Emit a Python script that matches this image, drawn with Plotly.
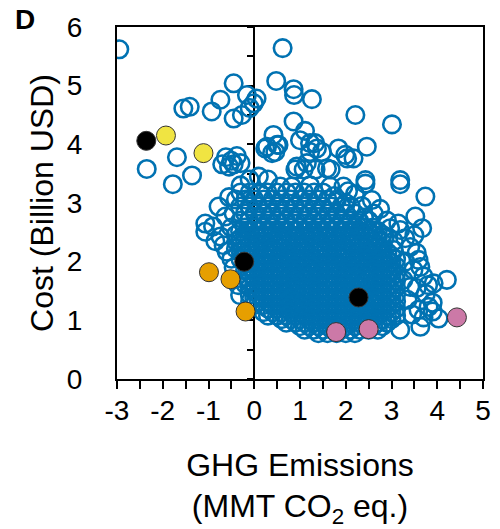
import plotly.graph_objects as go

# ---- data ----
# scattered (clearly visible) open circles
outer_x = [-2.95, 0.62, 0.48, -0.45, 0.86, 0.87, 1.26, -0.74, -0.16, -0.01, 0.05,
           -1.55, -1.41, -0.93, -0.45, -0.27, -0.10, 2.21, 3.01, 0.86, 1.11,
           -1.69, -2.35, -1.36, -1.78,
           -0.62, -0.50, -0.38, -0.45, -0.55, -0.30, -0.70,
           0.28, 0.50, 0.42, 0.24, 0.53, 0.46, 0.39,
           1.00, 1.22, 1.33, 1.37, 1.22, 1.48, 1.84, 1.99, 2.17, 2.46, 2.03,
           0.90, 1.08, 1.34, 1.67, 0.93, 1.15, 1.59, 2.43, 3.19, 3.19, 2.43,
           0.57, 0.82, 1.22, 1.66, 1.95,
           3.74, 2.57, 2.61, 3.15, 3.19, 3.52, 3.67, 2.97, 3.05, 3.41, 3.59, 3.63,
           2.68, 2.83, 4.21, 3.92, 3.81, 4.03, 3.26, 3.41, 3.48, 3.59, 3.63, 3.19,
           2.00, 2.20, 2.35, 2.75, 3.30, 3.50, 3.75, 3.90,
           3.35, 3.55, 3.70, 3.45, 3.80, 3.30, 3.55, 3.90, 3.70,
           -0.78, -0.63, -1.07, -1.07, -0.74, -0.67, -0.60, -0.31, -0.09,
           -0.90, -0.85, -0.50, -0.45, -0.35, -0.55, -0.30, -0.10, 0.10, 0.30,
           1.75, 2.05, 2.40, 2.25, 2.85, 3.05, 2.55, 2.90]
outer_y = [5.62, 5.64, 5.08, 5.04, 4.94, 4.84, 4.77, 4.76, 4.84, 4.70, 4.78,
           4.61, 4.64, 4.56, 4.44, 4.50, 4.62, 4.50, 4.34, 4.39, 4.23,
           3.78, 3.58, 3.47, 3.32,
           3.78, 3.72, 3.80, 3.66, 3.62, 3.68, 3.66,
           3.96, 3.99, 4.16, 3.93, 3.99, 3.87, 3.85,
           4.07, 4.02, 4.02, 3.93, 3.87, 3.87, 3.93, 3.82, 3.76, 3.96, 3.76,
           3.57, 3.57, 3.57, 3.57, 3.62, 3.68, 3.59, 3.39, 3.39, 3.32, 3.33,
           3.28, 3.28, 3.30, 3.28, 3.28,
           3.11, 3.05, 2.82, 2.65, 2.54, 2.77, 2.57, 2.57, 2.20, 2.25, 2.03, 1.91,
           2.25, 2.03, 1.69, 1.63, 1.23, 1.03, 1.69, 1.57, 1.86, 1.18, 0.89, 0.84,
           3.00, 3.15, 2.95, 2.90, 2.40, 2.45, 1.45, 1.30,
           1.35, 1.55, 1.75, 1.10, 1.60, 2.00, 2.15, 1.15, 1.05,
           2.94, 2.77, 2.51, 2.65, 2.43, 2.28, 2.17, 1.43, 1.32,
           2.60, 2.35, 2.05, 1.90, 1.60, 3.10, 3.30, 3.40, 3.45, 3.40,
           3.12, 3.20, 2.75, 2.62, 2.40, 2.35, 2.15, 2.70]

# body of the cloud, read row by row (row height, x positions of the circles)
core_rows_y = [3.18, 3.06, 2.94, 2.82, 2.70, 2.58,
               2.52, 2.46, 2.40, 2.34, 2.28, 2.22, 2.16, 2.10, 2.04, 1.98,
               1.92, 1.86, 1.80, 1.74, 1.68, 1.62, 1.56, 1.50, 1.44, 1.38,
               1.32, 1.26, 1.20, 1.14, 1.08, 1.02, 0.96, 0.90, 0.84, 0.78]
core_rows_x = [
    [-0.30, -0.10, 0.11, 0.29, 0.50, 0.71, 0.90, 1.09, 1.31, 1.50],
    [-0.40, -0.19, 0.00, 0.21, 0.40, 0.59, 0.80, 1.01, 1.20, 1.39, 1.60, 1.81],
    [-0.31, -0.10, 0.09, 0.30, 0.51, 0.70, 0.89, 1.10, 1.31, 1.50, 1.69, 1.90, 2.11],
    [-0.45, -0.20, 0.01, 0.20, 0.39, 0.60, 0.81, 1.00, 1.19, 1.40, 1.61, 1.80, 1.99, 2.20],
    [-0.30, -0.11, 0.10, 0.31, 0.50, 0.69, 0.90, 1.11, 1.30, 1.49, 1.70, 1.91, 2.10, 2.29, 2.50],
    [-0.50, -0.21, 0.00, 0.19, 0.40, 0.61, 0.80, 0.99, 1.20, 1.41, 1.60, 1.79, 2.00, 2.21, 2.40, 2.59],
    [-0.31, -0.10, 0.10, 0.29, 0.50, 0.71, 0.90, 1.10, 1.29, 1.50, 1.70, 1.91, 2.10, 2.30, 2.49, 2.70],
    [-0.40, -0.20, 0.01, 0.20, 0.40, 0.59, 0.80, 1.00, 1.21, 1.40, 1.60, 1.79, 2.00, 2.20, 2.41, 2.60, 2.80],
    [-0.30, -0.11, 0.10, 0.30, 0.51, 0.70, 0.89, 1.10, 1.30, 1.50, 1.71, 1.90, 2.10, 2.29, 2.50, 2.70],
    [-0.39, -0.20, 0.00, 0.20, 0.41, 0.60, 0.80, 0.99, 1.20, 1.40, 1.60, 1.80, 2.01, 2.20, 2.40, 2.60, 2.79],
    [-0.30, -0.10, 0.09, 0.30, 0.50, 0.70, 0.91, 1.10, 1.30, 1.49, 1.70, 1.90, 2.10, 2.31, 2.50, 2.70],
    [-0.40, -0.19, 0.00, 0.21, 0.40, 0.60, 0.80, 1.01, 1.20, 1.40, 1.59, 1.80, 2.00, 2.20, 2.40, 2.61, 2.80],
    [-0.29, -0.10, 0.10, 0.30, 0.49, 0.70, 0.90, 1.10, 1.31, 1.50, 1.70, 1.90, 2.09, 2.30, 2.50, 2.70, 2.91],
    [-0.20, 0.00, 0.20, 0.40, 0.61, 0.80, 1.00, 1.20, 1.40, 1.60, 1.81, 2.00, 2.20, 2.39, 2.60, 2.80, 3.00],
    [-0.30, -0.10, 0.11, 0.30, 0.50, 0.69, 0.90, 1.10, 1.30, 1.50, 1.70, 1.91, 2.10, 2.30, 2.50, 2.71, 2.90, 3.10],
    [-0.20, 0.01, 0.20, 0.40, 0.60, 0.80, 1.00, 1.19, 1.40, 1.60, 1.80, 2.00, 2.21, 2.40, 2.60, 2.80, 3.00],
    [-0.10, 0.10, 0.30, 0.50, 0.70, 0.90, 1.11, 1.30, 1.50, 1.69, 1.90, 2.10, 2.30, 2.50, 2.70, 2.90, 3.10],
    [-0.20, 0.00, 0.20, 0.41, 0.60, 0.80, 1.00, 1.20, 1.40, 1.61, 1.80, 2.00, 2.20, 2.40, 2.60, 2.81, 3.00],
    [-0.10, 0.10, 0.31, 0.50, 0.70, 0.90, 1.10, 1.29, 1.50, 1.70, 1.90, 2.10, 2.31, 2.50, 2.70, 2.90, 3.10],
    [-0.20, 0.00, 0.20, 0.40, 0.60, 0.79, 1.00, 1.20, 1.40, 1.60, 1.80, 2.01, 2.20, 2.40, 2.60, 2.80, 3.00],
    [-0.11, 0.10, 0.30, 0.50, 0.70, 0.90, 1.10, 1.30, 1.51, 1.70, 1.90, 2.10, 2.30, 2.49, 2.70, 2.90, 3.10],
    [-0.20, 0.00, 0.21, 0.40, 0.60, 0.80, 1.00, 1.20, 1.40, 1.60, 1.79, 2.00, 2.20, 2.40, 2.60, 2.80, 3.01],
    [-0.10, 0.10, 0.30, 0.50, 0.71, 0.90, 1.10, 1.30, 1.50, 1.70, 1.90, 2.11, 2.30, 2.50, 2.70, 2.90, 3.10],
    [0.00, 0.20, 0.40, 0.60, 0.80, 1.01, 1.20, 1.40, 1.60, 1.80, 2.00, 2.20, 2.39, 2.60, 2.80, 3.00],
    [-0.10, 0.10, 0.30, 0.49, 0.70, 0.90, 1.10, 1.30, 1.50, 1.70, 1.91, 2.10, 2.30, 2.50, 2.70, 2.90, 3.10],
    [0.00, 0.20, 0.40, 0.60, 0.80, 1.00, 1.20, 1.41, 1.60, 1.80, 2.00, 2.20, 2.40, 2.60, 2.79, 3.00],
    [0.10, 0.30, 0.50, 0.70, 0.90, 1.10, 1.30, 1.50, 1.70, 1.90, 2.10, 2.30, 2.51, 2.70, 2.90, 3.10],
    [0.00, 0.20, 0.40, 0.60, 0.81, 1.00, 1.20, 1.40, 1.60, 1.80, 2.00, 2.20, 2.40, 2.60, 2.80, 3.00],
    [0.30, 0.50, 0.70, 0.90, 1.10, 1.30, 1.50, 1.70, 1.90, 2.10, 2.30, 2.50, 2.70, 2.90, 3.10],
    [0.20, 0.40, 0.60, 0.80, 1.00, 1.20, 1.40, 1.60, 1.80, 2.00, 2.20, 2.40, 2.60, 2.80, 3.00],
    [0.30, 0.50, 0.70, 0.90, 1.10, 1.30, 1.50, 1.70, 1.90, 2.10, 2.30, 2.50, 2.70, 2.90, 3.10],
    [0.60, 0.80, 1.00, 1.20, 1.40, 1.60, 1.80, 2.00, 2.20, 2.40, 2.60, 2.80, 3.00],
    [0.70, 0.90, 1.10, 1.30, 1.50, 1.70, 1.90, 2.10, 2.30, 2.50, 2.70, 2.90],
    [1.00, 1.20, 1.40, 1.60, 1.80, 2.00, 2.20, 2.40, 2.60, 2.80],
    [1.10, 1.30, 1.50, 1.70, 1.90, 2.10, 2.30, 2.50, 2.70],
    [1.40, 1.60, 1.80, 2.00, 2.20],
]

# highlighted scenarios
black_x = [-2.36, -0.22, 2.28]
black_y = [4.06, 2.00, 1.39]
yellow_x = [-1.93, -1.11]
yellow_y = [4.15, 3.85]
orange_x = [-0.99, -0.52, -0.19]
orange_y = [1.82, 1.70, 1.15]
pink_x = [1.79, 2.50, 4.43]
pink_y = [0.80, 0.85, 1.05]

x_tickvals = [-3, -2, -1, 0, 1, 2, 3, 4, 5]
x_ticktext = ["-3", "-2", "-1", "0", "1", "2", "3", "4", "5"]
y_tickvals = [0, 1, 2, 3, 4, 5, 6]

# ---- build ----
cloud_x = list(outer_x)
cloud_y = list(outer_y)
for yv, xs in zip(core_rows_y, core_rows_x):
    cloud_x += xs
    cloud_y += [yv] * len(xs)

BLUE = "#0072B2"
FONT = "Liberation Sans, Arial, sans-serif"

fig = go.Figure()
fig.add_trace(go.Scatter(
    x=cloud_x, y=cloud_y, mode="markers",
    marker=dict(symbol="circle-open", size=17.5, color=BLUE, line=dict(width=2.6, color=BLUE)),
    showlegend=False, hoverinfo="skip"))

for xs, ys, col in [(black_x, black_y, "#000000"), (yellow_x, yellow_y, "#F0E442"),
                    (orange_x, orange_y, "#E69F00"), (pink_x, pink_y, "#CC79A7")]:
    fig.add_trace(go.Scatter(
        x=xs, y=ys, mode="markers",
        marker=dict(symbol="circle", size=19, color=col, line=dict(width=1, color="#333333")),
        showlegend=False, hoverinfo="skip"))

# trace bound to the zero-line axis (draws nothing itself)
fig.add_trace(go.Scatter(x=[0], y=[0], yaxis="y2", mode="markers",
                         marker=dict(size=1, opacity=0), showlegend=False, hoverinfo="skip"))

fig.update_layout(
    width=500, height=529,
    margin=dict(l=117, r=17, t=27, b=150, autoexpand=False),
    paper_bgcolor="white", plot_bgcolor="white",
    font=dict(family=FONT, color="black"),
    title=dict(text="<b>D</b>", xref="container", yref="container",
               x=25 / 500, y=1 - 19 / 529, xanchor="center", yanchor="middle",
               font=dict(size=28, family=FONT, color="black")),
    xaxis=dict(
        range=[-3, 5], domain=[0, 1], automargin=False,
        tickmode="array", tickvals=x_tickvals, ticktext=x_ticktext,
        ticks="outside", ticklen=8, tickwidth=2, tickcolor="black",
        minor=dict(tickmode="linear", tick0=0, dtick=0.5, ticks="outside",
                   ticklen=8, tickwidth=2, tickcolor="black"),
        showline=True, linewidth=2, linecolor="black", mirror=True,
        showgrid=False, zeroline=False,
        tickfont=dict(size=28, family=FONT),
        ticklabelstandoff=-3,
        title=dict(text="GHG Emissions<br>(MMT CO<sub>2</sub> eq.)",
                   font=dict(size=32, family=FONT), standoff=32),
        layer="below traces",
    ),
    yaxis=dict(
        range=[0, 6], tickvals=y_tickvals, automargin=False,
        ticks="", showline=True, linewidth=2, linecolor="black", mirror=True,
        showgrid=False, zeroline=False,
        tickfont=dict(size=28, family=FONT),
        ticklabelstandoff=27,
        title=dict(text="Cost (Billion USD)", font=dict(size=32, family=FONT), standoff=4),
        layer="below traces",
    ),
    yaxis2=dict(
        range=[0, 6], overlaying="y", anchor="free", position=0.375, side="left",
        automargin=False,
        tickmode="linear", tick0=0, dtick=0.5,
        ticks="outside", ticklen=6, tickwidth=2, tickcolor="black",
        showticklabels=False, showline=True, linewidth=2, linecolor="black",
        showgrid=False, zeroline=False, layer="below traces",
    ),
)

# remove the default page margin so the figure sits at the window's corner
fig.write_html("out.html", config={"displayModeBar": False},
               post_script="document.body.style.margin='0px';")
